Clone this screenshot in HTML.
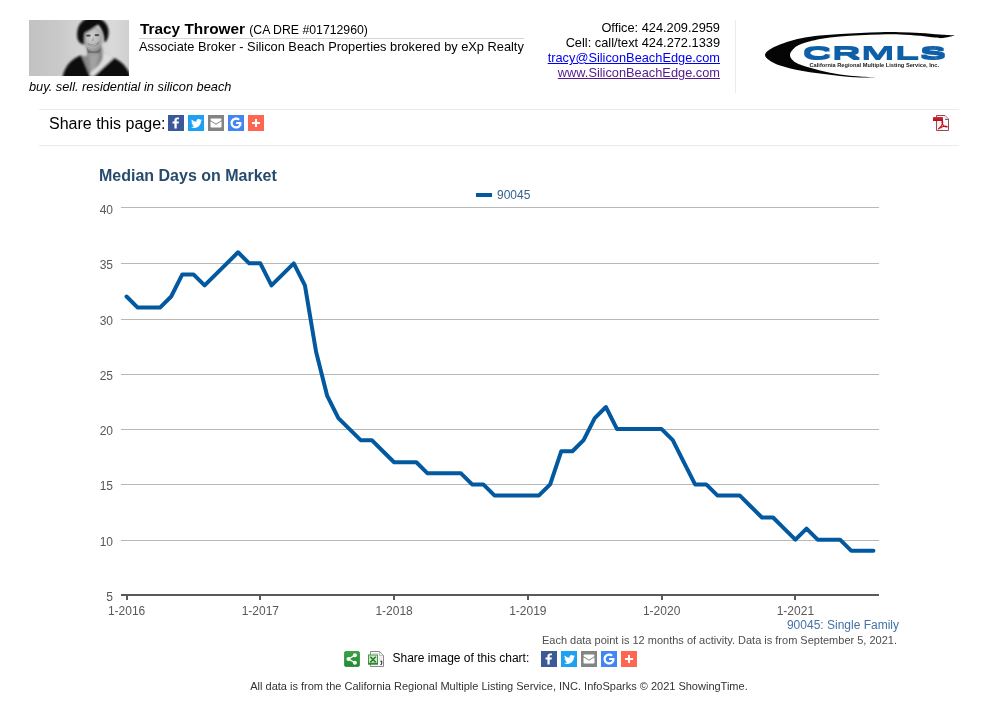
<!DOCTYPE html>
<html lang="en">
<head>
<meta charset="utf-8">
<title>Median Days on Market - 90045</title>
<style>
html,body{margin:0;padding:0;background:#fff;}
body{width:998px;height:708px;position:relative;overflow:hidden;font-family:"Liberation Sans",Arial,sans-serif;color:#000;}
.abs{position:absolute;white-space:nowrap;}
.name{left:140px;top:20px;font-size:15.36px;font-weight:bold;line-height:17px;}
.name span{font-size:12.288px;font-weight:normal;}
.hr1{left:139px;top:38px;width:385px;height:1px;background:#d6d6d6;}
.title2{left:139px;top:39px;font-size:12.8px;line-height:15px;}
.tag{left:29px;top:79px;font-size:12.8px;font-style:italic;line-height:15px;}
.contact{right:278px;top:20px;font-size:12.8px;line-height:15px;text-align:right;}
.contact a.e{color:#0000ee;text-decoration:underline;}
.contact a.w{color:#551a8b;text-decoration:underline;}
.vsep{left:735px;top:20px;width:1px;height:73px;background:#ebebeb;}
.hl{left:39px;width:920px;height:1px;background:#ebebeb;}
.share{left:49px;top:115px;font-size:16px;line-height:18px;}
.ic{position:absolute;width:16px;height:16px;display:block;}
.ctitle{left:99px;top:167px;font-size:16px;font-weight:bold;color:#274b6d;line-height:18px;}
.sub1{right:99px;top:618px;font-size:12px;line-height:14px;color:#4572a7;}
.sub2{right:101px;top:634px;font-size:11px;line-height:13px;color:#4d4d4d;}
.sharec{left:392.5px;top:651px;font-size:12px;line-height:14px;}
.foot{left:0;width:998px;text-align:center;top:680px;font-size:11px;line-height:13px;color:#333;}
</style>
</head>
<body>
<svg class="chart" width="998" height="708" viewBox="0 0 998 708" style="position:absolute;left:0;top:0">
<g shape-rendering="crispEdges">
<path d="M121 207.5H879" stroke="#b8b8b8" stroke-width="1"/>
<path d="M121 263.5H879" stroke="#b8b8b8" stroke-width="1"/>
<path d="M121 319.5H879" stroke="#b8b8b8" stroke-width="1"/>
<path d="M121 374.5H879" stroke="#b8b8b8" stroke-width="1"/>
<path d="M121 429.5H879" stroke="#b8b8b8" stroke-width="1"/>
<path d="M121 484.5H879" stroke="#b8b8b8" stroke-width="1"/>
<path d="M121 540.5H879" stroke="#b8b8b8" stroke-width="1"/>
</g>
<g shape-rendering="crispEdges"><path d="M121 595H879" stroke="#5a5a5a" stroke-width="2"/>
<path d="M127 595V600" stroke="#5a5a5a" stroke-width="2"/>
<path d="M260 595V600" stroke="#5a5a5a" stroke-width="2"/>
<path d="M394 595V600" stroke="#5a5a5a" stroke-width="2"/>
<path d="M528 595V600" stroke="#5a5a5a" stroke-width="2"/>
<path d="M662 595V600" stroke="#5a5a5a" stroke-width="2"/>
<path d="M795 595V600" stroke="#5a5a5a" stroke-width="2"/>
</g>
<g font-family="Liberation Sans, Arial, sans-serif" font-size="12" fill="#585858">
<text x="113" y="601" text-anchor="end">5</text>
<text x="113" y="546" text-anchor="end">10</text>
<text x="113" y="490" text-anchor="end">15</text>
<text x="113" y="435" text-anchor="end">20</text>
<text x="113" y="380" text-anchor="end">25</text>
<text x="113" y="325" text-anchor="end">30</text>
<text x="113" y="269" text-anchor="end">35</text>
<text x="113" y="214" text-anchor="end">40</text>
<text x="126.57" y="615" text-anchor="middle">1-2016</text>
<text x="260.33" y="615" text-anchor="middle">1-2017</text>
<text x="394.10" y="615" text-anchor="middle">1-2018</text>
<text x="527.86" y="615" text-anchor="middle">1-2019</text>
<text x="661.63" y="615" text-anchor="middle">1-2020</text>
<text x="795.39" y="615" text-anchor="middle">1-2021</text>
</g>
<polyline points="126.57,296.50 137.72,307.55 148.86,307.55 160.01,307.55 171.16,296.50 182.31,274.39 193.45,274.39 204.60,285.44 215.75,274.39 226.89,263.34 238.04,252.29 249.19,263.34 260.33,263.34 271.48,285.44 282.63,274.39 293.77,263.34 304.92,285.44 316.07,351.76 327.22,395.96 338.36,418.07 349.51,429.12 360.66,440.17 371.80,440.17 382.95,451.22 394.10,462.28 405.25,462.28 416.39,462.28 427.54,473.33 438.69,473.33 449.83,473.33 460.98,473.33 472.13,484.38 483.27,484.38 494.42,495.43 505.57,495.43 516.71,495.43 527.86,495.43 539.01,495.43 550.16,484.38 561.30,451.22 572.45,451.22 583.60,440.17 594.74,418.07 605.89,407.02 617.04,429.12 628.18,429.12 639.33,429.12 650.48,429.12 661.63,429.12 672.77,440.17 683.92,462.28 695.07,484.38 706.21,484.38 717.36,495.43 728.51,495.43 739.65,495.43 750.80,506.48 761.95,517.54 773.10,517.54 784.24,528.59 795.39,539.64 806.54,528.59 817.68,539.64 828.83,539.64 839.98,539.64 851.12,550.69 862.27,550.69 873.42,550.69" fill="none" stroke="#03599f" stroke-width="4" stroke-linejoin="round" stroke-linecap="round"/>
<path d="M476 195H492" stroke="#03599f" stroke-width="4"/>
<text x="497" y="199" font-family="Liberation Sans, Arial, sans-serif" font-size="12" fill="#34608a">90045</text>
</svg>
<svg class="abs" style="left:29px;top:20px" width="100" height="56" viewBox="0 0 100 56">
<defs>
<linearGradient id="pbg" x1="0" y1="0" x2="1" y2="0"><stop offset="0" stop-color="#c2c2c2"/><stop offset=".3" stop-color="#c9c9c9"/><stop offset=".5" stop-color="#d3d3d3"/><stop offset=".85" stop-color="#d9d9d9"/><stop offset="1" stop-color="#cfcfcf"/></linearGradient>
<radialGradient id="pfc" cx=".45" cy=".4" r=".6"><stop offset="0" stop-color="#d2d2d2"/><stop offset=".6" stop-color="#b8b8b8"/><stop offset="1" stop-color="#8c8c8c"/></radialGradient>
<filter id="pb1" x="-20%" y="-20%" width="140%" height="140%"><feGaussianBlur stdDeviation="0.8"/></filter>
<filter id="pb2" x="-30%" y="-30%" width="160%" height="160%"><feGaussianBlur stdDeviation="0.7"/></filter>
<clipPath id="pcl"><rect width="100" height="56"/></clipPath>
</defs>
<rect width="100" height="56" fill="url(#pbg)"/>
<g clip-path="url(#pcl)">
<g filter="url(#pb1)">
<path d="M58 28L58 36L52 36L60 58H68L85 38L74 32L73 26z" fill="#8a8a8a"/>
<path d="M60 34L70 34L66 50L62 54z" fill="#a2a2a2"/>
<path d="M33 60C35 48 40 40 52.200 35.300L60 54L63.200 55.500L84.400 37.500C92 41 97 46 101 54V60z" fill="#0b0b0b"/>
<path d="M73.400 32L85 37.800L64.500 56.500L60.500 56L62 52C70 46 76 40 73.400 32z" fill="#dedede"/>
<ellipse cx="64" cy="19" rx="9.600" ry="13" fill="url(#pfc)"/>
<path d="M48.600 19C46.500 8 52 -3 64 -2C76 -3 82 8 79 17C78 21 76.500 22.500 75 22C75.500 16 73 9 69 4.500C64 9 59 11.500 56 13C55 17 55.500 21 55.500 24.500C52.500 24.500 49.500 22 48.600 19z" fill="#0f0f0f"/>
</g>
<g filter="url(#pb2)">
<path d="M57.500 22C60 25 67 25 70.500 21C70 27.500 60 28.500 57.500 22z" fill="#8a8a8a"/><path d="M59.800 24C62 25.300 65.500 25.300 68 23.300C67 26 62 26.300 59.800 24z" fill="#dadada"/>
<ellipse cx="59.300" cy="15.600" rx="2.500" ry="1.200" fill="#505050"/><ellipse cx="67.900" cy="15.100" rx="2.500" ry="1.200" fill="#505050"/>
<path d="M64.500 16L65 21L62.500 21z" fill="#a8a8a8"/>
<path d="M57.500 27C60 32.500 67 33 72 27.500L71 33L59 33z" fill="#707070"/>
</g>
</g>
</svg>
<div class="abs name">Tracy Thrower <span>(CA DRE #01712960)</span></div>
<div class="abs hr1"></div>
<div class="abs title2">Associate Broker - Silicon Beach Properties brokered by eXp Realty</div>
<div class="abs tag">buy. sell. residential in silicon beach</div>
<div class="abs contact">Office: 424.209.2959<br>Cell: call/text 424.272.1339<br><a class="e">tracy@SiliconBeachEdge.com</a><br><a class="w">www.SiliconBeachEdge.com</a></div>
<div class="abs vsep"></div>
<svg class="abs" style="left:755px;top:25px" width="210" height="60" viewBox="755 25 210 60">
<path d="M954.7 35.5C952.25 35.35 945.78 35.02 940.00 34.60C934.22 34.18 926.67 33.40 920.00 33.00C913.33 32.60 906.67 32.33 900.00 32.20C893.33 32.07 886.67 32.07 880.00 32.20C873.33 32.33 866.63 32.72 860.00 33.00C853.37 33.28 846.87 33.47 840.20 33.90C833.53 34.33 826.70 34.82 820.00 35.60C813.30 36.38 806.67 37.12 800.00 38.60C793.33 40.08 785.17 42.60 780.00 44.50C774.83 46.40 771.50 48.27 769.00 50.00C766.50 51.73 765.00 53.23 765.00 54.90C765.00 56.57 766.50 58.22 769.00 60.00C771.50 61.78 774.83 63.83 780.00 65.60C785.17 67.37 793.33 69.27 800.00 70.60C806.67 71.93 813.33 72.72 820.00 73.60C826.67 74.48 833.33 75.27 840.00 75.90C846.67 76.53 853.50 77.13 860.00 77.40C866.50 77.67 875.83 77.48 879.00 77.50C875.83 77.32 866.50 76.92 860.00 76.40C853.50 75.88 846.67 75.37 840.00 74.40C833.33 73.43 826.67 72.23 820.00 70.60C813.33 68.97 804.58 66.37 800.00 64.60C795.42 62.83 794.17 61.60 792.50 60.00C790.83 58.40 790.00 56.67 790.00 55.00C790.00 53.33 790.83 51.75 792.50 50.00C794.17 48.25 795.42 46.33 800.00 44.50C804.58 42.67 813.33 40.33 820.00 39.00C826.67 37.67 833.33 37.12 840.00 36.50C846.67 35.88 853.33 35.63 860.00 35.30C866.67 34.97 873.33 34.65 880.00 34.50C886.67 34.35 893.33 34.18 900.00 34.40C906.67 34.62 914.17 35.27 920.00 35.80C925.83 36.33 931.17 37.23 935.00 37.60C938.83 37.97 939.72 38.35 943.00 38.00C946.28 37.65 952.75 35.92 954.70 35.50z" fill="#050505"/>
<filter id="lgm" x="-5%" y="-20%" width="110%" height="140%"><feMorphology operator="dilate" radius="0 0.7"/></filter>
<text transform="translate(802.5 58.6) scale(2.41 1)" font-family="Liberation Sans, Arial, sans-serif" font-weight="bold" font-size="16.8" fill="#0f5ea8" filter="url(#lgm)">CRMLS</text>
<text transform="translate(809.5 66.600) scale(.5)" font-family="Liberation Sans, Arial, sans-serif" font-weight="bold" font-size="10" fill="#1a1a1a" textLength="259" lengthAdjust="spacingAndGlyphs">California Regional Multiple Listing Service, Inc.</text>
</svg>
<div class="abs hl" style="top:109px"></div>
<div class="abs hl" style="top:145px"></div>
<div class="abs share">Share this page:</div>
<svg class="ic" style="left:168px;top:115px" viewBox="0 0 32 32"><rect width="32" height="32" fill="#3b5998"/><path fill="#fff" fill-rule="evenodd" d="M22 5.16c-.406-.054-1.806-.16-3.43-.16-3.4 0-5.733 1.825-5.733 5.17v2.882H9v3.913h3.837V27h4.604V16.965h3.823l.587-3.913h-4.41v-2.5c0-1.123.347-1.903 2.198-1.903H22V5.16z"/></svg>
<svg class="ic" style="left:188px;top:115px" viewBox="0 0 32 32"><rect width="32" height="32" fill="#1da1f2"/><path fill="#fff" fill-rule="evenodd" d="M27.996 10.116c-.81.36-1.68.602-2.592.71a4.526 4.526 0 0 0 1.984-2.496 9.037 9.037 0 0 1-2.866 1.095 4.513 4.513 0 0 0-7.69 4.116 12.81 12.81 0 0 1-9.3-4.715 4.49 4.49 0 0 0-.612 2.27 4.51 4.51 0 0 0 2.008 3.755 4.495 4.495 0 0 1-2.044-.564v.057a4.515 4.515 0 0 0 3.62 4.425 4.52 4.52 0 0 1-2.04.077 4.517 4.517 0 0 0 4.217 3.134 9.055 9.055 0 0 1-5.604 1.93A9.18 9.18 0 0 1 6 23.85a12.773 12.773 0 0 0 6.918 2.027c8.3 0 12.84-6.876 12.84-12.84 0-.195-.005-.39-.014-.583a9.172 9.172 0 0 0 2.252-2.336"/></svg>
<svg class="ic" style="left:208px;top:115px" viewBox="0 0 32 32"><rect width="32" height="32" fill="#848484"/><g fill="#fff"><path d="M27 22.757c0 1.24-.988 2.243-2.19 2.243H7.19C5.98 25 5 23.994 5 22.757V13.67c0-.556.39-.773.855-.496l8.78 5.238c.782.467 1.95.467 2.73 0l8.78-5.238c.472-.28.855-.063.855.495v9.087z"/><path d="M27 9.243C27 8.006 26.02 7 24.81 7H7.19C5.988 7 5 8.004 5 9.243v.465c0 .554.385 1.232.857 1.514l9.61 5.733c.267.16.8.16 1.067 0l9.61-5.733c.473-.283.856-.96.856-1.514v-.465z"/></g></svg>
<svg class="ic" style="left:228px;top:115px" viewBox="0 0 32 32"><rect width="32" height="32" fill="#4285f4"/><path fill="#fff" fill-rule="evenodd" d="M16.213 13.998H26.72c.157.693.28 1.342.28 2.255C27 22.533 22.7 27 16.224 27 10.03 27 5 22.072 5 16S10.03 5 16.224 5c3.03 0 5.568 1.09 7.51 2.87l-3.188 3.037c-.808-.748-2.223-1.628-4.322-1.628-3.715 0-6.745 3.024-6.745 6.73 0 3.708 3.03 6.733 6.745 6.733 4.3 0 5.882-2.915 6.174-4.642h-6.185v-4.102z"/></svg>
<svg class="ic" style="left:248px;top:115px" viewBox="0 0 32 32"><rect width="32" height="32" fill="#ff6550"/><path fill="#fff" fill-rule="evenodd" d="M18 14V8h-4v6H8v4h6v6h4v-6h6v-4h-6z"/></svg>

<svg class="ic" style="left:933px;top:115px" viewBox="0 0 16 16">
<defs><linearGradient id="pdg" x1="0" y1="0" x2="0" y2="1"><stop offset="0" stop-color="#d9283a"/><stop offset="1" stop-color="#ae0f1e"/></linearGradient></defs>
<path d="M3.500 .5H12L15.500 4V15.500H3.500z" fill="#fdfdfd" stroke="#9a3039" stroke-width=".9"/>
<path d="M4.200 6.500H10V15H4.200z" fill="#efefef"/>
<path d="M12 .9V4H15.100z" fill="#fff" stroke="#b9b9b9" stroke-width=".6"/>
<path d="M12.200 4.500H14.900" stroke="#5a5a5a" stroke-width="1"/>
<rect x="0" y="2" width="10" height="4" rx=".5" fill="url(#pdg)"/>
<path d="M5.600 13.800c1.600-.9 3.300-3.200 3.900-5.100.3-1 .3-2.500-.2-2.500-.6 0-.4 1.700.3 3.100.8 1.600 2.300 2.500 3.900 2.700 1 .1 1-.7-.1-.8-1.600-.2-4.200.5-6.100 1.500-1.300.7-2.300 1.400-1.700 1.100z" fill="none" stroke="#c1121f" stroke-width="1.100" stroke-linejoin="round"/>
</svg>
<div class="abs ctitle">Median Days on Market</div>
<div class="abs sub1">90045: Single Family</div>
<div class="abs sub2">Each data point is 12 months of activity. Data is from September 5, 2021.</div>
<svg class="ic" style="left:344px;top:651px" viewBox="0 0 16 16">
<defs><linearGradient id="gsh" x1="0" y1="0" x2="0" y2="1"><stop offset="0" stop-color="#37a545"/><stop offset="1" stop-color="#238a31"/></linearGradient></defs>
<rect x=".3" y=".3" width="15.400" height="15.400" rx="2.200" fill="url(#gsh)" stroke="#247a2e" stroke-width=".6"/>
<path d="M10.800 4.200L4.600 8L10.800 11.800" fill="none" stroke="#fff" stroke-width="1.300"/>
<circle cx="10.900" cy="4.200" r="2" fill="#fff"/><circle cx="4.500" cy="8" r="2" fill="#fff"/><circle cx="10.900" cy="11.800" r="2" fill="#fff"/>
</svg>
<svg class="ic" style="left:368px;top:651px" viewBox="0 0 16 16">
<path d="M2.500 .5H11.500L15.500 4.500V15.500H2.500z" fill="#fbfbfb" stroke="#8a8a8a" stroke-width="1"/>
<path d="M11.500 .9V4.600H15.200z" fill="#fff" stroke="#a5a5a5" stroke-width=".7"/>
<path d="M4 2.500h6.500M11 7h3M11 9h3" stroke="#dddddd" stroke-width="1"/>
<rect x=".5" y="4" width="9" height="9" fill="#d3ead0" stroke="#3f9a3c" stroke-width="1"/>
<rect x="0" y="11.700" width="10" height="1.800" fill="#2f8a33"/>
<path d="M2.300 5.800L7.700 11.300M7.700 5.800L2.300 11.300" stroke="#2b7a2e" stroke-width="1.600"/>
<path d="M12.300 10.300h1.400v2.100c0 .9-.5 1.300-1.300 1.400" fill="none" stroke="#333" stroke-width="1.100"/>
</svg>
<div class="abs sharec">Share image of this chart:</div>
<svg class="ic" style="left:541px;top:651px" viewBox="0 0 32 32"><rect width="32" height="32" fill="#3b5998"/><path fill="#fff" fill-rule="evenodd" d="M22 5.16c-.406-.054-1.806-.16-3.43-.16-3.4 0-5.733 1.825-5.733 5.17v2.882H9v3.913h3.837V27h4.604V16.965h3.823l.587-3.913h-4.41v-2.5c0-1.123.347-1.903 2.198-1.903H22V5.16z"/></svg>
<svg class="ic" style="left:561px;top:651px" viewBox="0 0 32 32"><rect width="32" height="32" fill="#1da1f2"/><path fill="#fff" fill-rule="evenodd" d="M27.996 10.116c-.81.36-1.68.602-2.592.71a4.526 4.526 0 0 0 1.984-2.496 9.037 9.037 0 0 1-2.866 1.095 4.513 4.513 0 0 0-7.69 4.116 12.81 12.81 0 0 1-9.3-4.715 4.49 4.49 0 0 0-.612 2.27 4.51 4.51 0 0 0 2.008 3.755 4.495 4.495 0 0 1-2.044-.564v.057a4.515 4.515 0 0 0 3.62 4.425 4.52 4.52 0 0 1-2.04.077 4.517 4.517 0 0 0 4.217 3.134 9.055 9.055 0 0 1-5.604 1.93A9.18 9.18 0 0 1 6 23.85a12.773 12.773 0 0 0 6.918 2.027c8.3 0 12.84-6.876 12.84-12.84 0-.195-.005-.39-.014-.583a9.172 9.172 0 0 0 2.252-2.336"/></svg>
<svg class="ic" style="left:581px;top:651px" viewBox="0 0 32 32"><rect width="32" height="32" fill="#848484"/><g fill="#fff"><path d="M27 22.757c0 1.24-.988 2.243-2.19 2.243H7.19C5.98 25 5 23.994 5 22.757V13.67c0-.556.39-.773.855-.496l8.78 5.238c.782.467 1.95.467 2.73 0l8.78-5.238c.472-.28.855-.063.855.495v9.087z"/><path d="M27 9.243C27 8.006 26.02 7 24.81 7H7.19C5.988 7 5 8.004 5 9.243v.465c0 .554.385 1.232.857 1.514l9.61 5.733c.267.16.8.16 1.067 0l9.61-5.733c.473-.283.856-.96.856-1.514v-.465z"/></g></svg>
<svg class="ic" style="left:601px;top:651px" viewBox="0 0 32 32"><rect width="32" height="32" fill="#4285f4"/><path fill="#fff" fill-rule="evenodd" d="M16.213 13.998H26.72c.157.693.28 1.342.28 2.255C27 22.533 22.7 27 16.224 27 10.03 27 5 22.072 5 16S10.03 5 16.224 5c3.03 0 5.568 1.09 7.51 2.87l-3.188 3.037c-.808-.748-2.223-1.628-4.322-1.628-3.715 0-6.745 3.024-6.745 6.73 0 3.708 3.03 6.733 6.745 6.733 4.3 0 5.882-2.915 6.174-4.642h-6.185v-4.102z"/></svg>
<svg class="ic" style="left:621px;top:651px" viewBox="0 0 32 32"><rect width="32" height="32" fill="#ff6550"/><path fill="#fff" fill-rule="evenodd" d="M18 14V8h-4v6H8v4h6v6h4v-6h6v-4h-6z"/></svg>

<div class="abs foot">All data is from the California Regional Multiple Listing Service, INC. InfoSparks © 2021 ShowingTime.</div>
</body>
</html>
